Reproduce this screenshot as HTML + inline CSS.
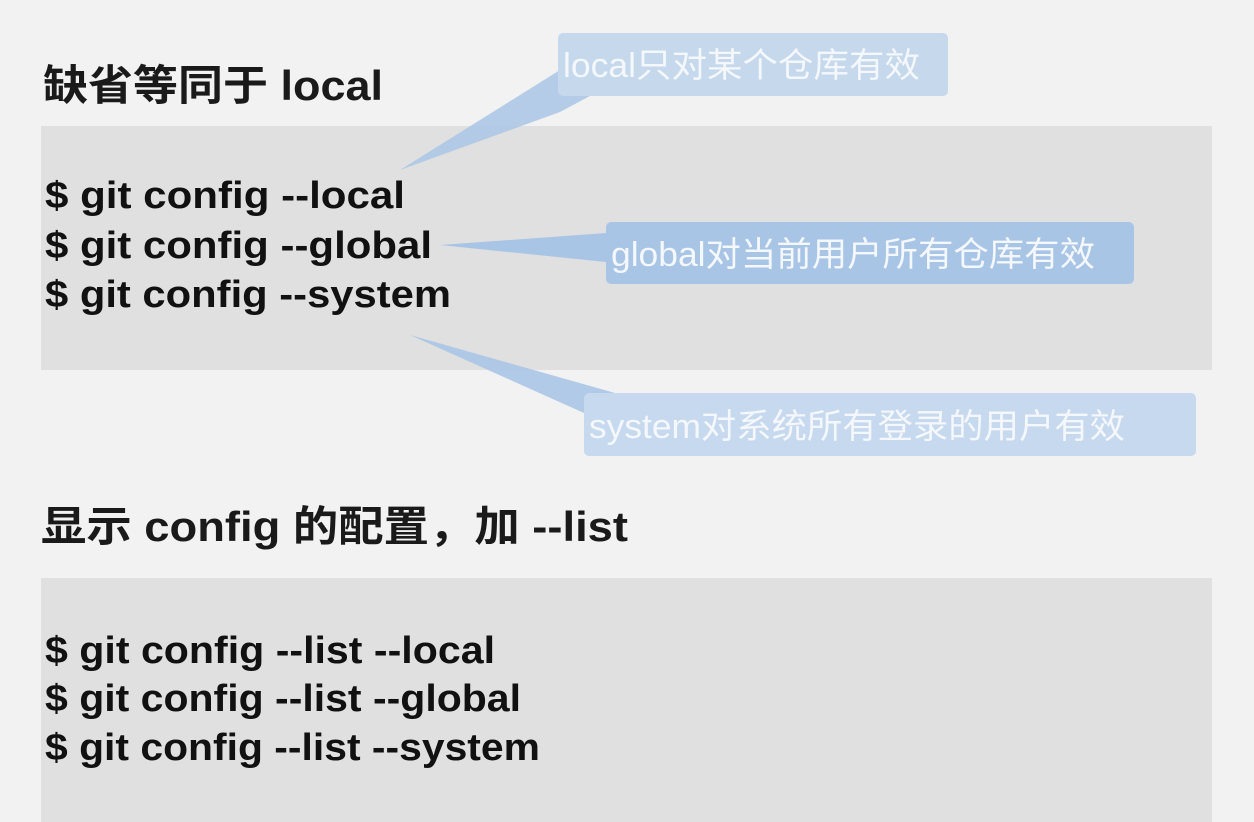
<!DOCTYPE html>
<html><head><meta charset="utf-8"><style>
html,body{margin:0;padding:0;background:#f2f2f2;}
svg{display:block;}
.cmd{font-family:"Liberation Sans",sans-serif;font-weight:bold;font-size:38px;fill:#111;}
.ttl{font-family:"Liberation Sans","Noto Sans CJK SC",sans-serif;font-size:42px;fill:#1a1a1a;font-weight:bold;}
.cl{font-family:"Liberation Sans","Noto Sans CJK SC",sans-serif;font-size:34px;fill:#f4f7fb;}
</style></head><body>
<svg width="1254" height="822" xmlns="http://www.w3.org/2000/svg">
<rect width="1254" height="822" fill="#f2f2f2"/>
<rect x="41" y="126" width="1171" height="244" fill="#e0e0e0"/>
<rect x="41" y="578" width="1171" height="244" fill="#e0e0e0"/>
<text class="ttl" x="43" y="100" textLength="340" lengthAdjust="spacingAndGlyphs">缺省等同于 local</text>
<text class="cmd" x="45" y="208" textLength="360" lengthAdjust="spacingAndGlyphs">$ git config  --local</text>
<text class="cmd" x="45" y="258" textLength="387" lengthAdjust="spacingAndGlyphs">$ git config  --global</text>
<text class="cmd" x="45" y="307" textLength="406" lengthAdjust="spacingAndGlyphs">$ git config  --system</text>
<text class="ttl" x="41" y="541" textLength="587" lengthAdjust="spacingAndGlyphs">显示 config 的配置，加 --list</text>
<text class="cmd" x="45" y="663" textLength="450" lengthAdjust="spacingAndGlyphs">$ git config --list --local</text>
<text class="cmd" x="45" y="711" textLength="476" lengthAdjust="spacingAndGlyphs">$ git config --list --global</text>
<text class="cmd" x="45" y="760" textLength="495" lengthAdjust="spacingAndGlyphs">$ git config --list --system</text>
<polygon points="400,170 560,112 590,96 560,70" fill="#a9c5e6" opacity="0.85"/>
<rect x="558" y="33" width="390" height="63" rx="5" fill="#c5d8ec"/>
<text class="cl" x="563" y="77" textLength="357" lengthAdjust="spacingAndGlyphs">local只对某个仓库有效</text>
<polygon points="440,245 606,233 606,262" fill="#a9c5e6"/>
<rect x="606" y="222" width="528" height="62" rx="5" fill="#a9c5e6"/>
<text class="cl" x="611" y="266" textLength="484" lengthAdjust="spacingAndGlyphs">global对当前用户所有仓库有效</text>
<polygon points="410,335 615,393 584,413" fill="#a9c5e6" opacity="0.9"/>
<rect x="584" y="393" width="612" height="63" rx="5" fill="#c7d9ee"/>
<text class="cl" x="589" y="438" textLength="536" lengthAdjust="spacingAndGlyphs">system对系统所有登录的用户有效</text>
</svg>
</body></html>
